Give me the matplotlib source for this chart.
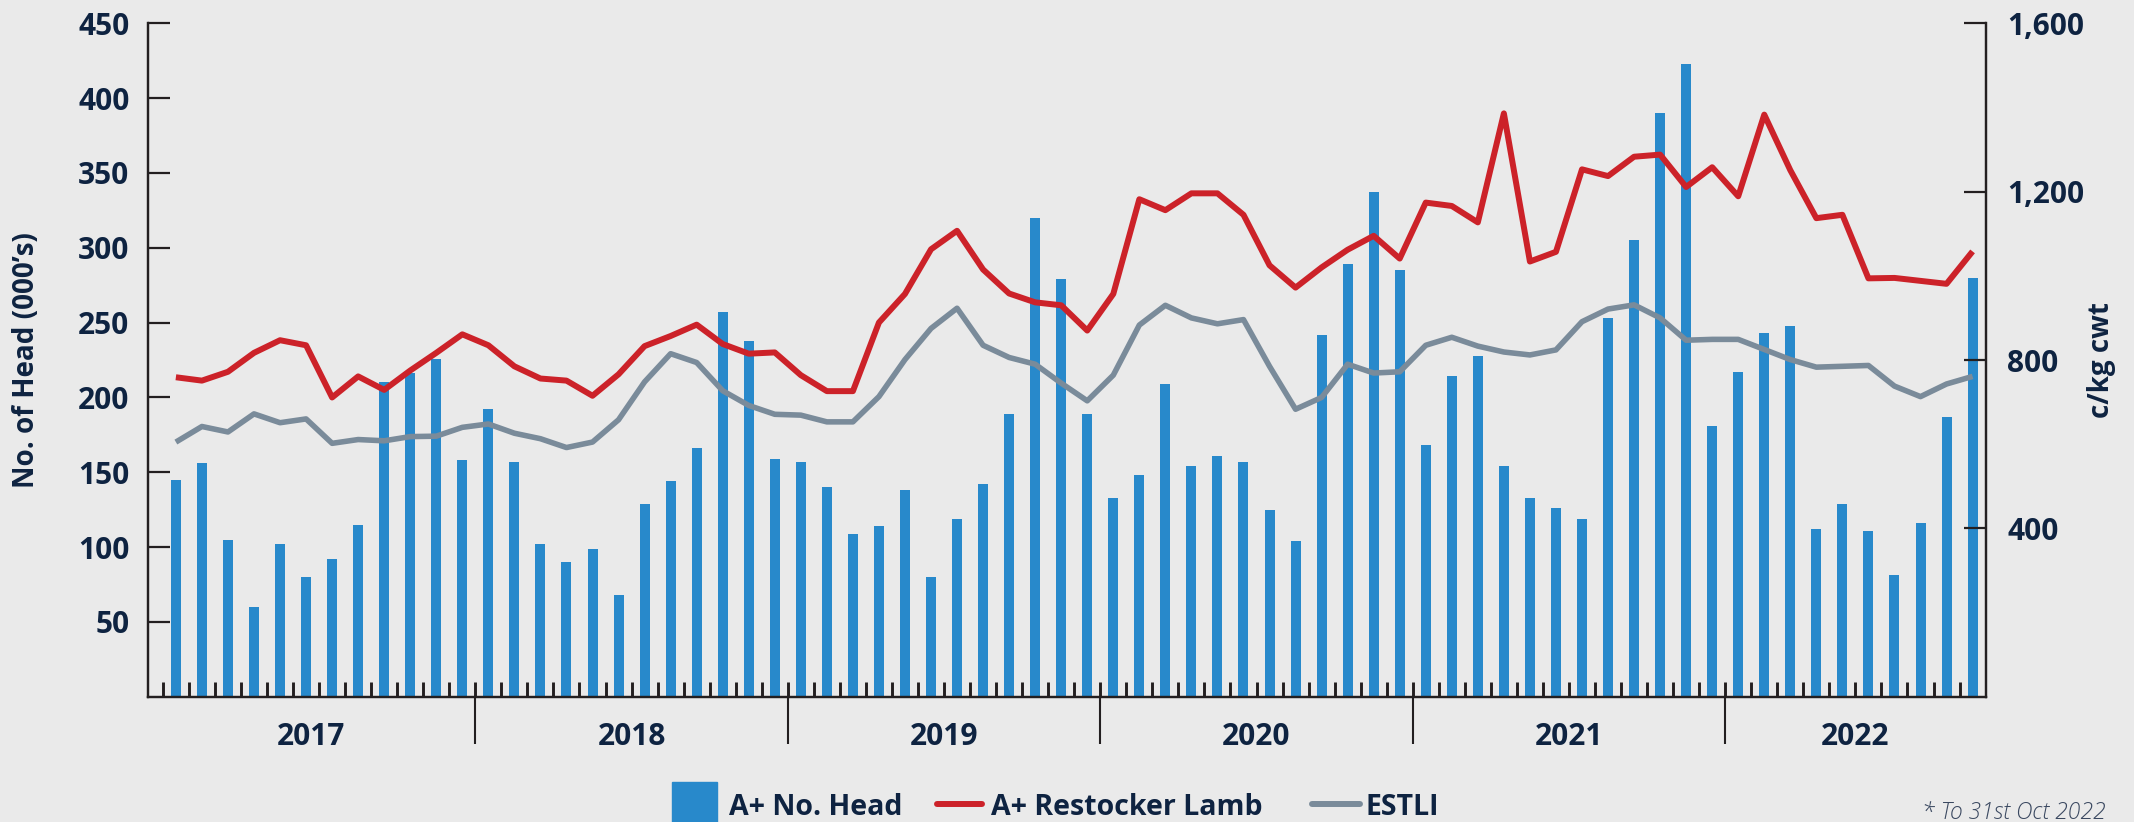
import numpy as np
import matplotlib
matplotlib.use("Agg")
import matplotlib.pyplot as plt
from matplotlib.patches import Rectangle
from matplotlib.lines import Line2D

plt.rcParams['font.family'] = ['Open Sans', 'DejaVu Sans']
plt.rcParams['font.weight'] = 'bold'
plt.rcParams['axes.labelweight'] = 'bold'

# monthly data, Jan 2017 - Oct 2022
years = [2017, 2018, 2019, 2020, 2021, 2022]
months_in_year = [12, 12, 12, 12, 12, 10]

head = [145, 156, 105, 60, 102, 80, 92, 115, 210, 216, 226, 158,
        192, 157, 102, 90, 99, 68, 129, 144, 166, 257, 238, 159,
        157, 140, 109, 114, 138, 80, 119, 142, 189, 320, 279, 189,
        133, 148, 209, 154, 161, 157, 125, 104, 242, 289, 337, 285,
        168, 214, 228, 154, 133, 126, 119, 253, 305, 390, 423, 181,
        217, 243, 248, 112, 129, 111, 81, 116, 187, 280]

restocker = [759, 751, 772, 817, 847, 835, 711, 761, 729, 775, 817, 861,
             835, 785, 756, 751, 715, 766, 833, 857, 884, 838, 815, 818,
             764, 726, 726, 889, 957, 1063, 1107, 1015, 958, 937, 930, 870,
             957, 1182, 1156, 1196, 1196, 1145, 1025, 972, 1020, 1062, 1095, 1041,
             1174, 1166, 1127, 1386, 1034, 1057, 1253, 1237, 1283, 1288, 1211, 1258,
             1189, 1383, 1251, 1137, 1145, 994, 995, 988, 981, 1058]

estli = [605, 642, 629, 672, 651, 660, 602, 611, 608, 618, 619, 640,
         648, 626, 613, 592, 605, 658, 748, 815, 794, 727, 692, 671,
         669, 653, 653, 713, 801, 875, 923, 835, 806, 790, 745, 703,
         764, 883, 930, 900, 886, 896, 785, 683, 711, 790, 769, 772,
         835, 854, 833, 819, 812, 824, 891, 921, 931, 900, 847, 849,
         849, 825, 801, 783, 785, 787, 738, 713, 743, 761]

BLUE = "#2889cb"
RED = "#cc2229"
GREY = "#7a8b9a"
NAVY = "#0e2341"
AXC = "#231f20"
BG = "#eaeaea"

W, H = 2134, 822
def fx(p):
    return p / W
def fy(p):
    return 1 - p / H

x = np.arange(len(head))
x_left = -1.09
x_right = len(head) - 0.5

fig = plt.figure(figsize=(W / 100, H / 100), dpi=100, facecolor=BG)
ax = fig.add_axes([fx(147.5), fy(696.7), (1985.6 - 147.5) / W, (696.7 - 23.3) / H])
ax.set_facecolor("none")

ax.bar(x, head, width=0.384, color=BLUE, zorder=2)
ax.set_xlim(x_left, x_right)
ax.set_ylim(0, 450)
ax.set_yticks(range(50, 451, 50))

ax2 = ax.twinx()
ax2.plot(x, estli, color=GREY, lw=4.0, solid_capstyle="butt")
ax2.plot(x, restocker, color=RED, lw=4.3, solid_capstyle="butt")
ax2.set_ylim(0, 1600)
ax2.set_yticks([400, 800, 1200, 1600])
ax2.set_yticklabels([f"{v:,}" for v in [400, 800, 1200, 1600]])

for a in (ax, ax2):
    a.spines["top"].set_visible(False)
    for s in a.spines.values():
        s.set_linewidth(1.6)
        s.set_color(AXC)

ax.tick_params(axis="y", direction="in", length=15.8, width=1.6, pad=13,
               labelsize=21.5, labelcolor=NAVY, color=AXC)
ax2.tick_params(axis="y", direction="in", length=15.5, width=1.6, pad=15.5,
                labelsize=21.5, labelcolor=NAVY, color=AXC)

# month ticks inside, year dividers outside
bounds = np.cumsum(months_in_year)
ax.set_xticks(bounds[:-1] - 0.5)
ax.set_xticks(np.arange(len(head)) - 0.5, minor=True)
ax.xaxis.remove_overlapping_locs = False
ax.tick_params(axis="x", which="major", direction="out", length=34, width=1.5,
               color=AXC, labelbottom=False)
ax.tick_params(axis="x", which="minor", direction="in", length=10.8, width=2.1,
               color=AXC)

# year labels centred in each year span
starts = np.concatenate([[x_left], bounds[:-1] - 0.5])
ends = np.concatenate([bounds[:-1] - 0.5, [x_right]])
year_mid = (starts + ends) / 2
sec = ax.secondary_xaxis("bottom")
sec.set_xticks(year_mid, labels=[str(y) for y in years])
sec.tick_params(length=0, pad=18.4, labelsize=21.5, labelcolor=NAVY)
sec.spines["bottom"].set_visible(False)

ax.set_ylabel("No. of Head (000\u2019s)", fontsize=20, color=NAVY, va="center",
              fontweight="bold")
ax.yaxis.set_label_coords(-0.0656, 0.5)
ax2.set_ylabel("c/kg cwt", fontsize=20, color=NAVY, va="center", rotation=90,
               fontweight="bold")
ax2.yaxis.set_label_coords(1.0633, 0.5)

# legend along the bottom edge
fig.add_artist(Rectangle((fx(672), fy(827)), 45 / W, 45 / H,
                         transform=fig.transFigure, color=BLUE))
fig.text(fx(729), fy(815), "A+ No. Head", fontsize=20.5, color=NAVY, va="baseline")
fig.add_artist(Line2D([fx(937), fx(982)], [fy(804), fy(804)], lw=4.3, color=RED,
                      solid_capstyle="round", transform=fig.transFigure))
fig.text(fx(991), fy(815), "A+ Restocker Lamb", fontsize=20.5, color=NAVY, va="baseline")
fig.add_artist(Line2D([fx(1312), fx(1360)], [fy(804), fy(804)], lw=4.3, color=GREY,
                      solid_capstyle="round", transform=fig.transFigure))
fig.text(fx(1365), fy(815), "ESTLI", fontsize=20.5, color=NAVY, va="baseline")

fig.text(fx(2106), fy(819), "* To 31st Oct 2022", fontsize=16.5, color="#3a4860",
         style="italic", weight="light", ha="right", va="baseline")

fig.savefig("out.png", dpi=100, facecolor=BG)
